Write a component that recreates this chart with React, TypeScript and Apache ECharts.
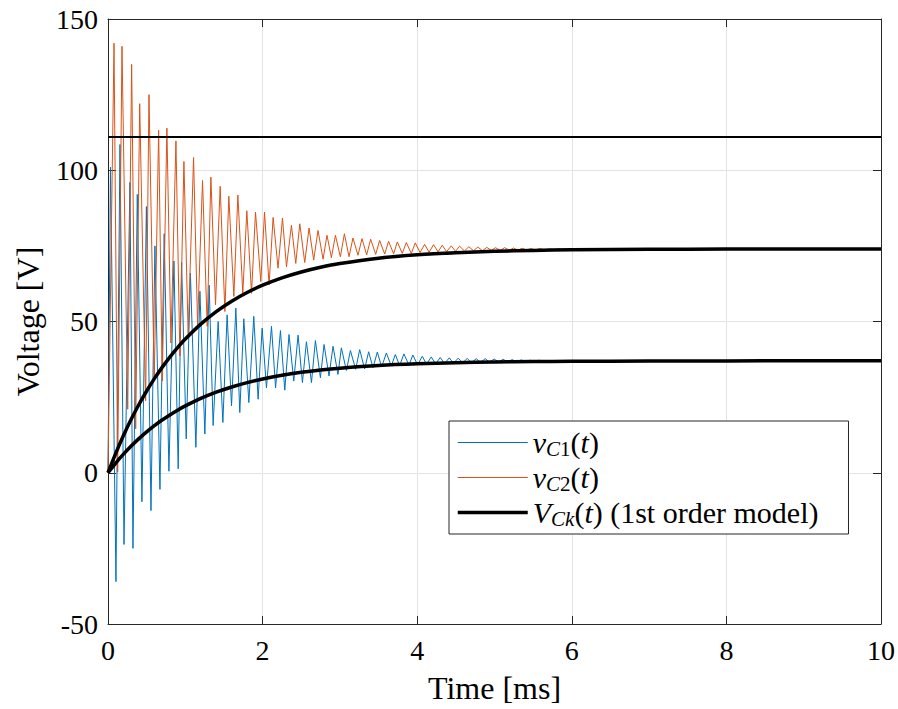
import React, { useEffect, useRef } from 'react';
import * as echarts from 'echarts';

const FONT = "'Liberation Serif', 'DejaVu Serif', serif";
const BLUE = '#0072BD';
const ORANGE = '#D95319';
const AXIS = '#262626';

// Axis ranges / ticks
const X_MIN = 0, X_MAX = 10, X_STEP = 2;
const Y_MIN = -50, Y_MAX = 150, Y_STEP = 50;

// v_C1(t): peaks and troughs [t (ms), V]
const vC1: [number, number][] = [
  [0, 0], [0.032, 101], [0.103, -36], [0.155, 108.5], [0.207, -23.7], [0.284, 96], [0.323, -25],
  [0.379, 92], [0.439, -9.6], [0.497, 88], [0.556, -12.5], [0.607, 75], [0.672, -5.5], [0.727, 79],
  [0.788, 0.5], [0.853, 70], [0.908, 1.3], [0.952, 69.5], [1.012, 11.2], [1.066, 66], [1.137, 8.4],
  [1.189, 60], [1.253, 12.8], [1.309, 62], [1.36, 15.6], [1.425, 50], [1.486, 16.6], [1.541, 52.2],
  [1.598, 22.1], [1.654, 54.4], [1.705, 19.9], [1.757, 50.9], [1.822, 23.2], [1.886, 51.7], [1.942, 24.3],
  [1.994, 47.8], [2.05, 28.1], [2.115, 48.4], [2.168, 28.1], [2.231, 47.0], [2.287, 27.3], [2.342, 45.7],
  [2.403, 30.3], [2.459, 45.5], [2.515, 29.8], [2.567, 43.3], [2.632, 29.8], [2.683, 43.7], [2.748, 31.4],
  [2.795, 42.4], [2.859, 32.0], [2.911, 41.8], [2.975, 32.5], [3.019, 41.3], [3.084, 33.8], [3.136, 40.4],
  [3.204, 34.2], [3.256, 40.7], [3.32, 34.3], [3.372, 40.0], [3.428, 34.7], [3.484, 39.9], [3.54, 35.0],
  [3.601, 39.6], [3.665, 35.3], [3.717, 39.1], [3.773, 35.4], [3.828, 39.3], [3.893, 35.6], [3.944, 38.9],
  [4.005, 35.7], [4.066, 38.5], [4.121, 35.9], [4.182, 38.3], [4.238, 36.0], [4.298, 38.1], [4.354, 36.1],
  [4.415, 38.0], [4.47, 36.2], [4.531, 37.9], [4.587, 36.3], [4.647, 37.8], [4.703, 36.4], [4.764, 37.7],
  [4.819, 36.5], [4.88, 37.7], [4.935, 36.6], [4.996, 37.6], [5.052, 36.6], [5.112, 37.5], [5.168, 36.7],
  [5.229, 37.4], [5.284, 36.7], [5.345, 37.3], [5.401, 36.8], [5.461, 37.2], [5.517, 36.8], [5.578, 37.2],
  [5.633, 36.9], [5.694, 37.1], [5.749, 36.9], [5.81, 37.1], [5.866, 36.9], [5.926, 37.0], [6.5, 37.0],
  [10, 37.0],
];

// v_C2(t): peaks and troughs [t (ms), V]
const vC2: [number, number][] = [
  [0, 0], [0.078, 142.0], [0.125, 0.2], [0.181, 141.0], [0.255, 21.0], [0.306, 135.0], [0.358, 14.5],
  [0.41, 122.0], [0.487, 23.8], [0.53, 125.0], [0.598, 30.3], [0.655, 113.2], [0.702, 30.3], [0.762, 113.9],
  [0.814, 42.9], [0.879, 109.7], [0.93, 38.6], [0.982, 102.9], [1.037, 46.0], [1.107, 104.2], [1.159, 48.9],
  [1.223, 96.6], [1.283, 48.4], [1.331, 97.7], [1.391, 55.5], [1.451, 94.7], [1.512, 53.3], [1.563, 91.4],
  [1.628, 58.3], [1.68, 91.8], [1.744, 59.3], [1.796, 86.6], [1.857, 59.3], [1.908, 86.2], [1.977, 63.2],
  [2.025, 86.2], [2.084, 62.1], [2.136, 84.4], [2.2, 67.6], [2.257, 84.2], [2.309, 68.1], [2.373, 81.8],
  [2.429, 69.2], [2.481, 82.3], [2.545, 69.5], [2.601, 80.9], [2.661, 70.3], [2.717, 80.1], [2.782, 70.6],
  [2.833, 78.5], [2.89, 71.1], [2.942, 78.5], [3.006, 71.4], [3.058, 79.0], [3.118, 71.4], [3.169, 77.6],
  [3.234, 71.9], [3.286, 77.4], [3.346, 72.0], [3.398, 77.2], [3.463, 72.2], [3.514, 76.8], [3.579, 72.3],
  [3.63, 76.5], [3.695, 72.4], [3.743, 76.3], [3.807, 72.5], [3.859, 76.1], [3.924, 72.5], [3.975, 76.0],
  [4.037, 72.8], [4.096, 75.5], [4.154, 72.9], [4.212, 75.4], [4.27, 73.0], [4.324, 75.2], [4.38, 73.1],
  [4.441, 75.0], [4.496, 73.2], [4.548, 74.9], [4.612, 73.3], [4.668, 74.7], [4.729, 73.4], [4.784, 74.6],
  [4.845, 73.4], [4.9, 74.5], [4.961, 73.5], [5.013, 74.4], [5.078, 73.5], [5.129, 74.4], [5.194, 73.6],
  [5.245, 74.3], [5.304, 73.6], [5.358, 74.2], [5.413, 73.7], [5.474, 74.1], [5.53, 73.7], [5.59, 74.1],
  [5.646, 73.7], [5.707, 74.0], [5.762, 73.8], [5.823, 74.0], [5.879, 73.8], [5.939, 73.9], [5.995, 73.8],
  [6.5, 73.9], [10, 73.9],
];

// 1st order model curves
const modelTime = [0, 0.1, 0.2, 0.3, 0.4, 0.5, 0.6, 0.7, 0.8, 0.9, 1.0, 1.2, 1.4, 1.6, 1.8, 2.0, 2.25, 2.5, 2.75, 3.0, 3.5, 4.0, 4.5, 5.0, 5.5, 6.0, 7.0, 8.0, 10.0];
const modelC2 = [0, 6.43, 12.3, 17.66, 22.56, 27.02, 31.11, 34.84, 38.24, 41.35, 44.19, 49.14, 53.27, 56.72, 59.59, 61.99, 64.43, 66.38, 67.93, 69.16, 70.93, 72.05, 72.76, 73.22, 73.5, 73.68, 73.87, 73.95, 74.0];
const modelC1 = [0, 3.22, 6.15, 8.83, 11.28, 13.51, 15.56, 17.42, 19.12, 20.68, 22.1, 24.57, 26.64, 28.36, 29.8, 31.0, 32.22, 33.19, 33.97, 34.58, 35.47, 36.03, 36.38, 36.61, 36.75, 36.84, 36.94, 36.98, 37.0];

// Horizontal input level
const levelTime = [0, 10];
const levelVolt = [111, 111];

const LEGEND_LABELS: Record<string, string> = {
  vC1: '{i|v}{si|C}{sn|1}{n|(}{i|t}{n|)}',
  vC2: '{i|v}{si|C}{sn|2}{n|(}{i|t}{n|)}',
  Vck: '{i|V}{si|Ck}{n|(}{i|t}{n|) (1st order model)}',
};

const zip = (a: number[], b: number[]) => a.map((v, i) => [v, b[i]]);

export default function App() {
  const ref = useRef<HTMLDivElement>(null);
  useEffect(() => {
    document.body.style.margin = '0';
    const chart = echarts.init(ref.current!, null, { renderer: 'svg' });
    const axisCommon = {
      axisLine: { show: true, onZero: false, lineStyle: { color: AXIS, width: 1 } },
      axisTick: { show: true, inside: true, length: 8, lineStyle: { color: AXIS, width: 1 } },
    };
    const nameStyle = { fontFamily: FONT, fontSize: 32, color: '#000' };
    chart.setOption({
      animation: false,
      backgroundColor: '#ffffff',
      textStyle: { fontFamily: FONT },
      grid: { left: 108, right: 16, top: 19, bottom: 81, containLabel: false },
      xAxis: [
        {
          type: 'value', min: X_MIN, max: X_MAX, interval: X_STEP, position: 'bottom',
          ...axisCommon,
          axisLabel: { color: '#000', fontFamily: FONT, fontSize: 28, margin: 12 },
          splitLine: { show: true, lineStyle: { color: '#e3e3e3', width: 1 } },
          name: 'Time [ms]', nameLocation: 'middle', nameGap: 48, nameTextStyle: nameStyle,
        },
        {
          type: 'value', min: X_MIN, max: X_MAX, interval: X_STEP, position: 'top',
          ...axisCommon,
          axisLabel: { show: false }, splitLine: { show: false },
        },
      ],
      yAxis: [
        {
          type: 'value', min: Y_MIN, max: Y_MAX, interval: Y_STEP, position: 'left',
          ...axisCommon,
          axisLabel: { color: '#000', fontFamily: FONT, fontSize: 28, margin: 10 },
          splitLine: { show: true, lineStyle: { color: '#e3e3e3', width: 1 } },
          name: 'Voltage [V]', nameLocation: 'middle', nameGap: 64, nameTextStyle: nameStyle,
        },
        {
          type: 'value', min: Y_MIN, max: Y_MAX, interval: Y_STEP, position: 'right',
          ...axisCommon,
          axisLabel: { show: false }, splitLine: { show: false },
        },
      ],
      legend: {
        data: [
          { name: 'vC1', lineStyle: { color: BLUE, width: 1 } },
          { name: 'vC2', lineStyle: { color: ORANGE, width: 1 } },
          { name: 'Vck', lineStyle: { color: '#000', width: 3.5 } },
        ],
        orient: 'vertical',
        left: 449,
        top: 421,
        itemWidth: 70,
        itemHeight: 1,
        itemGap: 0,
        padding: [4, 30, 4, 7],
        backgroundColor: '#ffffff',
        borderColor: AXIS,
        borderWidth: 1,
        borderRadius: 0,
        selectedMode: false,
        itemStyle: { opacity: 0 },
        formatter: (name: string) => LEGEND_LABELS[name] ?? name,
        textStyle: {
          fontFamily: FONT, fontSize: 30, color: '#000', lineHeight: 35,
          rich: {
            n: { fontFamily: FONT, fontSize: 30, color: '#000', lineHeight: 35 },
            i: { fontFamily: FONT, fontSize: 30, fontStyle: 'italic', color: '#000', lineHeight: 35 },
            si: { fontFamily: FONT, fontSize: 21, fontStyle: 'italic', color: '#000', lineHeight: 21, padding: [12, 0, 0, 0] },
            sn: { fontFamily: FONT, fontSize: 21, color: '#000', lineHeight: 21, padding: [12, 0, 0, 0] },
          },
        },
      },
      series: [
        {
          type: 'line', name: 'vC1', data: vC1, symbol: 'none', showSymbol: false, silent: true,
          lineStyle: { color: BLUE, width: 1 }, itemStyle: { color: BLUE }, z: 2,
        },
        {
          type: 'line', name: 'vC2', data: vC2, symbol: 'none', showSymbol: false, silent: true,
          lineStyle: { color: ORANGE, width: 1 }, itemStyle: { color: ORANGE }, z: 3,
        },
        {
          type: 'line', name: 'Vck', data: zip(modelTime, modelC2), symbol: 'none', showSymbol: false, silent: true,
          smooth: 0.3, lineStyle: { color: '#000', width: 3.5 }, itemStyle: { color: '#000' }, z: 4,
        },
        {
          type: 'line', name: 'Vck', data: zip(modelTime, modelC1), symbol: 'none', showSymbol: false, silent: true,
          smooth: 0.3, lineStyle: { color: '#000', width: 3.5 }, itemStyle: { color: '#000' }, z: 4,
        },
        {
          type: 'line', name: 'Vin', data: zip(levelTime, levelVolt), symbol: 'none', showSymbol: false, silent: true,
          lineStyle: { color: '#000', width: 2 }, itemStyle: { color: '#000' }, z: 5,
        },
      ],
    });
    return () => chart.dispose();
  }, []);
  return <div ref={ref} style={{ width: 898, height: 709 }} />;
}
